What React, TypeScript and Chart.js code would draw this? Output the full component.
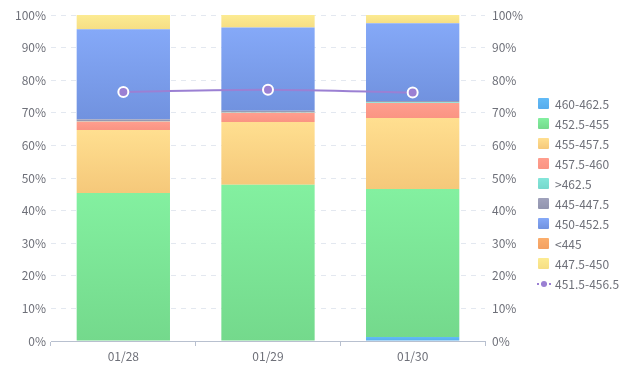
import React, { useEffect, useRef } from "react";
import { Chart, registerables } from "chart.js";

Chart.register(...registerables);

const categories = ["01/28", "01/29", "01/30"];
const yTickValues = [0, 10, 20, 30, 40, 50, 60, 70, 80, 90, 100];

const names = [
  "460-462.5",
  "452.5-455",
  "455-457.5",
  "457.5-460",
  ">462.5",
  "445-447.5",
  "450-452.5",
  "<445",
  "447.5-450",
];
const v460_4625 = [0, 0, 1.2];
const v4525_455 = [45.4, 47.9, 45.4];
const v455_4575 = [19.3, 19.3, 21.8];
const v4575_460 = [2.6, 2.8, 4.6];
const vOver4625 = [0.2, 0.2, 0.2];
const v445_4475 = [0.5, 0.4, 0.4];
const v450_4525 = [27.6, 25.6, 23.9];
const vUnder445 = [0, 0, 0];
const v4475_450 = [4.4, 3.8, 2.5];
const barValues = [
  v460_4625,
  v4525_455,
  v455_4575,
  v4575_460,
  vOver4625,
  v445_4475,
  v450_4525,
  vUnder445,
  v4475_450,
];

const lineName = "451.5-456.5";
const lineValues = [76.4, 77.1, 76.2];

const topColors = ["#62BBF7", "#83F0A0", "#FFDF90", "#FF9E8E", "#84E6DA", "#A0A2BC", "#85A9F8", "#FBAE6C", "#FCEB92"];
const bottomColors = ["#56ACEC", "#74D98C", "#F5C87A", "#FA9483", "#76D8CC", "#9194AE", "#7192DF", "#F3A062", "#F6DE84"];
const legendColors = ["#5EB5F3", "#7CE898", "#FDD888", "#FF9B8B", "#80E0D5", "#9C9EB8", "#7EA0F1", "#F8A867", "#FAE78D"];
const lineColor = "#9B80D3";
const textColor = "#6E7079";
const fontFamily = "'Noto Sans CJK SC', 'Noto Sans', sans-serif";

export default function App() {
  const canvasRef = useRef<HTMLCanvasElement | null>(null);

  useEffect(() => {
    const canvas = canvasRef.current;
    if (!canvas) return;

    const makeBg = (si: number) => (ctx: any) => {
      const chart = ctx.chart;
      const yScale = chart.scales && chart.scales.y;
      const i = ctx.dataIndex;
      if (!yScale || i === undefined || !chart.ctx) return legendColors[si];
      let start = 0;
      for (let k = 0; k < si; k++) start += barValues[k][i];
      const end = start + barValues[si][i];
      const y0 = yScale.getPixelForValue(end);
      const y1 = yScale.getPixelForValue(start);
      if (!isFinite(y0) || !isFinite(y1) || Math.abs(y1 - y0) < 0.5) return legendColors[si];
      const g = chart.ctx.createLinearGradient(0, y0, 0, y1);
      g.addColorStop(0, topColors[si]);
      g.addColorStop(1, bottomColors[si]);
      return g;
    };

    const datasets: any[] = names.map((name, si) => ({
      type: "bar",
      label: name,
      data: barValues[si],
      backgroundColor: makeBg(si),
      borderWidth: 0,
      yAxisID: "y",
      stack: "bars",
      order: 1,
      barPercentage: 0.645,
      categoryPercentage: 1,
    }));
    datasets.push({
      type: "line",
      label: lineName,
      data: lineValues,
      borderColor: lineColor,
      borderWidth: 2,
      backgroundColor: lineColor,
      pointBackgroundColor: lineColor,
      pointBorderColor: "#ffffff",
      pointBorderWidth: 2,
      pointRadius: 5,
      tension: 0.3,
      yAxisID: "y1",
      order: 0,
    });

    const tickCb = (v: any) => `${v}%`;

    const chart = new Chart(canvas, {
      type: "bar",
      data: { labels: categories, datasets },
      options: {
        responsive: false,
        animation: false,
        devicePixelRatio: 1,
        layout: { padding: { top: 15, left: 0, right: 0, bottom: 0 } },
        plugins: { legend: { display: false }, tooltip: { enabled: false }, title: { display: false } },
        scales: {
          x: {
            stacked: true,
            offset: true,
            grid: {
              display: true,
              drawOnChartArea: false,
              drawTicks: true,
              tickLength: 5,
              color: "#B8C0CF",
              offset: true,
            },
            border: { display: true, color: "#B8C0CF", width: 1 },
            ticks: { color: textColor, font: { family: fontFamily, size: 12 }, padding: 3 },
            afterFit: (scale: any) => {
              scale.height = 36;
            },
          },
          y: {
            position: "left",
            stacked: true,
            min: 0,
            max: 100,
            afterBuildTicks: (scale: any) => {
              scale.ticks = yTickValues.map((v) => ({ value: v }));
            },
            grid: { color: "#E3E8F0", drawTicks: false, lineWidth: 1 },
            border: { display: false, dash: [5, 5] },
            ticks: { color: textColor, font: { family: fontFamily, size: 12 }, padding: 5, callback: tickCb },
            afterFit: (scale: any) => {
              scale.width = 51;
            },
          },
          y1: {
            position: "right",
            min: 0,
            max: 100,
            afterBuildTicks: (scale: any) => {
              scale.ticks = yTickValues.map((v) => ({ value: v }));
            },
            grid: { display: false, drawTicks: false },
            border: { display: false },
            ticks: { color: textColor, font: { family: fontFamily, size: 12 }, padding: 7, callback: tickCb },
            afterFit: (scale: any) => {
              scale.width = 147;
            },
          },
        },
      },
    } as any);

    return () => chart.destroy();
  }, []);

  const rowStyle: React.CSSProperties = {
    display: "flex",
    alignItems: "center",
    height: 20,
    fontFamily,
    fontSize: 12,
    color: textColor,
    whiteSpace: "nowrap",
  };

  return (
    <div style={{ position: "fixed", left: 0, top: 0, width: 632, height: 377, background: "#fff" }}>
      <canvas ref={canvasRef} width={632} height={377} style={{ display: "block", width: 632, height: 377 }} />
      <div style={{ position: "absolute", left: 537, top: 93 }}>
        {names.map((n, i) => (
          <div key={n} style={rowStyle}>
            <span
              style={{
                display: "inline-block",
                width: 11,
                height: 11,
                marginLeft: 1,
                marginRight: 6,
                borderRadius: 1,
                background: `linear-gradient(${topColors[i]}, ${bottomColors[i]})`,
              }}
            />
            <span>{n}</span>
          </div>
        ))}
        <div style={rowStyle}>
          <span style={{ position: "relative", display: "inline-block", width: 14, height: 11, marginRight: 4 }}>
            <span
              style={{
                position: "absolute",
                left: 0,
                top: 5,
                width: 14,
                height: 0,
                borderTop: `2px dotted ${lineColor}`,
              }}
            />
            <span
              style={{
                position: "absolute",
                left: 4,
                top: 3,
                width: 6,
                height: 6,
                borderRadius: 3,
                background: lineColor,
              }}
            />
          </span>
          <span>{lineName}</span>
        </div>
      </div>
    </div>
  );
}
